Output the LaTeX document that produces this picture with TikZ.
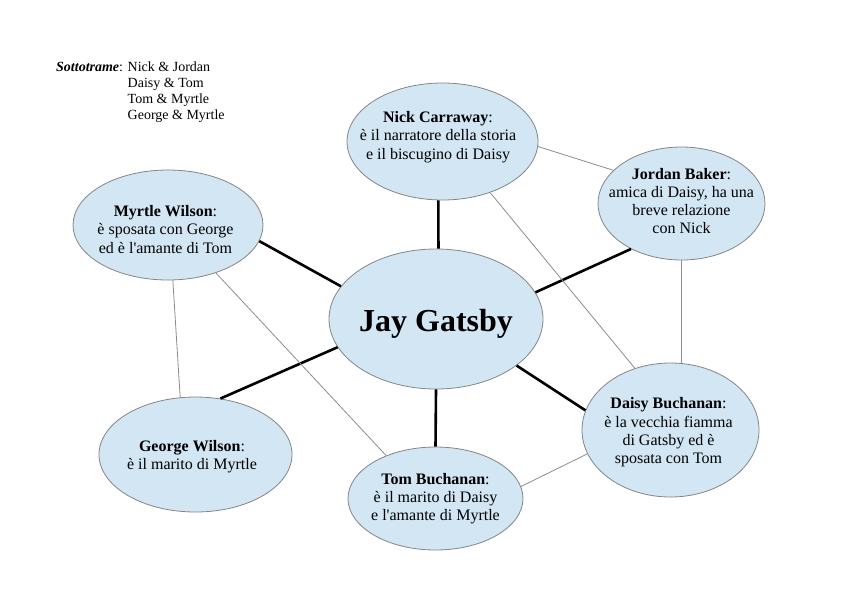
\documentclass[tikz,border=0pt]{standalone}
\usepackage{fontspec}
\setmainfont{Liberation Serif}[Ligatures=TeXOff]
\usetikzlibrary{shapes.geometric}
\definecolor{ellfill}{HTML}{D2E6F4}
\definecolor{ellline}{HTML}{858585}
\definecolor{thinline}{HTML}{8C8C8C}
\tikzset{
  person/.style={ellipse, draw=ellline, line width=0.8pt, fill=ellfill, inner sep=0pt},
  textlab/.style={align=center, inner sep=0pt, font=\fontsize{16}{18.3}\selectfont},
  strong/.style={draw=black, line width=2.6pt},
  weak/.style={draw=thinline, line width=0.8pt},
  legend/.style={anchor=north west, align=left, inner sep=0pt, font=\fontsize{14}{15.8}\selectfont}
}
\begin{document}
\begin{tikzpicture}[x=1pt, y=-1pt]
\useasboundingbox (0,0) rectangle (842,595);
% nodes
\node[person, minimum width=191pt, minimum height=117pt,
  label={[textlab, xshift=-4.5pt, yshift=4.5pt]center:{\textbf{Nick Carraway}:\\è il narratore della storia\\e il biscugino di Daisy}}]
  (nick) at (442.5,141.5) {};
\node[person, minimum width=167pt, minimum height=113pt,
  label={[textlab, yshift=2.5pt]center:{\textbf{Jordan Baker}:\\amica di Daisy, ha una\\breve relazione\\con Nick}}]
  (jordan) at (681.5,203.5) {};
\node[person, minimum width=190pt, minimum height=110pt,
  label={[textlab, xshift=-2.5pt, yshift=-4.5pt]center:{\textbf{Myrtle Wilson}:\\è sposata con George\\ed è l'amante di Tom}}]
  (myrtle) at (168,225) {};
\node[person, minimum width=214pt, minimum height=140pt,
  label={[textlab, yshift=-5pt, font=\fontsize{32}{36}\selectfont\bfseries]center:{Jay Gatsby}}]
  (jay) at (436,319) {};
\node[person, minimum width=193pt, minimum height=115pt,
  label={[textlab, xshift=-3.5pt, yshift=-2pt]center:{\textbf{George Wilson}:\\è il marito di Myrtle}}]
  (george) at (195.5,454.5) {};
\node[person, minimum width=175pt, minimum height=103pt,
  label={[textlab]center:{\textbf{Tom Buchanan}:\\è il marito di Daisy\\e l'amante di Myrtle}}]
  (tom) at (435.5,498.5) {};
\node[person, minimum width=177pt, minimum height=134pt,
  label={[textlab, xshift=-2pt, yshift=-2.5pt]center:{\textbf{Daisy Buchanan}:\\è la vecchia fiamma\\di Gatsby ed è\\sposata con Tom}}]
  (daisy) at (670.5,430) {};
% legend
\node[legend] (legtitle) at (56,62) {\textbf{\textit{Sottotrame}}:};
\node[legend] (leglist) at (127.5,62) {Nick \& Jordan\\Daisy \& Tom\\Tom \& Myrtle\\George \& Myrtle};
% thick connectors
\draw[strong] (nick.-94.4) -- (jay.88.4);
\draw[strong] (jordan.222) -- (jay.15);
\draw[strong] (myrtle.-10.7) -- (jay.161.6);
\draw[strong] (george.66.6) -- (jay.196.3);
\draw[strong] (jay.south) -- (tom.north);
\draw[strong] (jay.-30.7) -- (daisy.167.8);
% thin connectors
\draw[weak] (nick.-3.3) -- (jordan.154.6);
\draw[weak] (nick.-47.3) -- (daisy.120.6);
\draw[weak] (jordan.south) -- (jordan.south |- daisy.north);
\draw[weak] (myrtle.-85.8) -- (george.105.1);
\draw[weak] (myrtle.-45.6) -- (tom.139.6);
\draw[weak] (tom.8.8) -- (daisy.196.2);
\end{tikzpicture}
\end{document}
